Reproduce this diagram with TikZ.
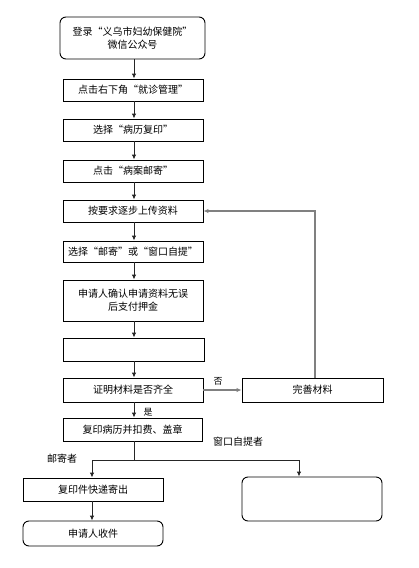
\documentclass[tikz,border=0pt]{standalone}
\usepackage{fontspec}
\setmainfont{Noto Sans CJK SC}
\usetikzlibrary{arrows.meta}
\begin{document}
\begin{tikzpicture}[x=1pt,y=-1pt,
  font=\fontsize{10}{13}\selectfont,
  box/.style={draw=black,line width=0.9pt,inner sep=0pt,align=center,minimum width=140pt,minimum height=22pt},
  rbox/.style={box,rounded corners=6pt},
  arr/.style={draw=black!85,line width=0.9pt,-{Latex[length=5pt,width=4.5pt]}},
  garr/.style={draw=black!50,line width=1.2pt,-{Latex[length=5pt,width=4.5pt]}},
  lbl/.style={inner sep=0pt,font=\fontsize{9}{10}\selectfont}]
\useasboundingbox (0,0) rectangle (419,568);
\node[rbox,minimum width=145pt,minimum height=42pt] (b1) at (132.5,38) {登录“义乌市妇幼保健院”\\微信公众号};
\node[box] (b2) at (133,90) {点击右下角“就诊管理”};
\node[box] (b3) at (133,130) {选择“病历复印”};
\node[box] (b4) at (133,171) {点击“病案邮寄”};
\node[box] (b5) at (133,211) {按要求逐步上传资料};
\node[box,minimum height=21pt] (b6) at (133,251.5) {选择“邮寄”或“窗口自提”};
\node[box,minimum height=41pt] (b7) at (133,300.5) {申请人确认申请资料无误\\后支付押金};
\node[box,minimum width=141pt,minimum height=23pt] (b8) at (133.5,349.5) {};
\node[box,minimum height=24pt] (b9) at (133,390) {证明材料是否齐全};
\node[box,minimum width=141pt,minimum height=24pt] (wan) at (312.5,390) {完善材料};
\node[box,minimum width=139pt,minimum height=23pt] (b10) at (132.5,429.5) {复印病历并扣费、盖章};
\node[box,minimum height=23pt] (mail) at (93,489.5) {复印件快递寄出};
\node[rbox,minimum height=25pt] (recv) at (93,533.5) {申请人收件};
\node[rbox,minimum height=44pt] (self) at (312,499) {};
\draw[arr] (b1.south -| 134,0) -- (b2.north -| 134,0);
\draw[arr] (b2.south -| 134,0) -- (b3.north -| 134,0);
\draw[arr] (b3.south -| 134,0) -- (b4.north -| 134,0);
\draw[arr] (b4.south -| 134,0) -- (b5.north -| 134,0);
\draw[arr] (b5.south -| 134,0) -- (b6.north -| 134,0);
\draw[arr] (b6.south -| 134,0) -- (b7.north -| 134,0);
\draw[arr] (b7.south -| 134,0) -- (b8.north -| 134,0);
\draw[arr] (b8.south -| 134,0) -- (b9.north -| 134,0);
\draw[arr] (b9.south -| 134,0) -- (b10.north -| 134,0);
\draw[garr] (b9.east) -- (wan.west);
\draw[garr] (wan.north -| 315,0) |- (b5.east);
\coordinate (j) at (134,460);
\draw[draw=black!85,line width=0.9pt] (b10.south -| 134,0) -- (j);
\draw[arr] (j) -| (mail.north -| 92,0);
\draw[arr] (j) -| (self.north -| 299,0);
\draw[arr] (mail.south -| 92,0) -- (recv.north -| 92,0);
\node[lbl] (no) at (218,381) {否};
\node[lbl] (yes) at (148,412) {是};
\node[lbl,font=\fontsize{10}{11}\selectfont] (selfl) at (238,442) {窗口自提者};
\node[lbl,font=\fontsize{10}{11}\selectfont] (maill) at (62,459) {邮寄者};
\end{tikzpicture}
\end{document}
